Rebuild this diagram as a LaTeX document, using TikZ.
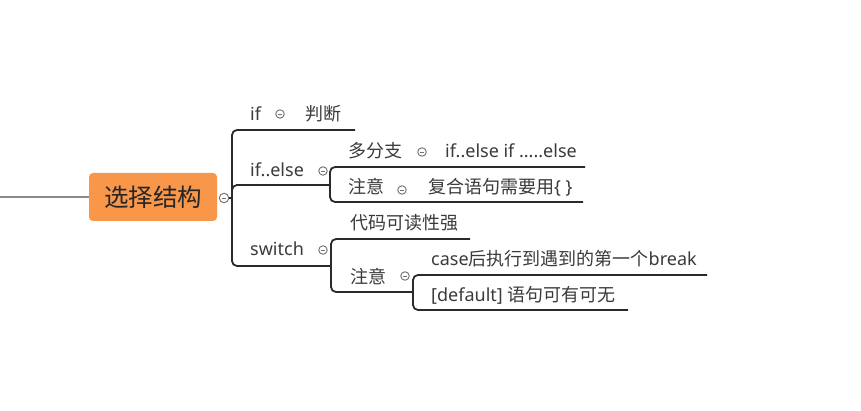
\documentclass[tikz,border=0pt]{standalone}
\usepackage{fontspec}
\setmainfont{Noto Sans}
\newfontfamily\cjk{Noto Sans CJK SC}
\definecolor{txtc}{HTML}{3C3A38}
\definecolor{linec}{HTML}{2A2A2A}
\definecolor{togc}{HTML}{707070}
\definecolor{rootfill}{HTML}{F8964A}
\definecolor{rootline}{HTML}{8A8A8A}
\begin{document}
\begin{tikzpicture}[x=1pt,y=-1pt]
\tikzset{
  txt/.style={anchor=west, inner sep=0pt, text=txtc, font=\fontsize{18}{20}\selectfont, text height=15.6pt, text depth=2.2pt},
  branch/.style={draw=linec, line width=1.8pt, rounded corners=5pt},
  toggle/.style={circle, draw=togc, line width=0.9pt, fill=white, minimum size=8.5pt, inner sep=0pt,
    path picture={\draw[togc, line width=0.9pt] ([xshift=-2.3pt]path picture bounding box.center) -- ([xshift=2.3pt]path picture bounding box.center);}},
  rootbox/.style={fill=rootfill, rounded corners=4pt, minimum width=128pt, minimum height=48pt, inner sep=0pt,
    text=black!85, font=\fontsize{24.5}{28}\selectfont\cjk},
}
\useasboundingbox (0,0) rectangle (861,411);

% root
\coordinate (left) at (0,197);
\node[rootbox] (root) at (153,197) {选择结构};
\draw[rootline, line width=1.4pt] (left) -- (root.west);
\node[toggle, minimum size=9.5pt] (t0) at (224,198) {};
\coordinate (j0) at (232,198);
\draw[linec, line width=1.2pt] (t0.east) -- (j0);

% level 1 texts
\node[txt] (if) at (250,114) {if};
\node[toggle] (t1) at (280,114) {};
\node[txt] (pd) at (305,114) {\cjk 判断};
\node[txt] (ifelse) at (250,170) {if..else};
\node[toggle] (t2) at (323,171) {};
\node[txt] (switch) at (250,249) {switch};
\node[toggle] (t3) at (323,250) {};

% level 1 connectors
\coordinate (ifE) at (355,130);
\coordinate (ifelseE) at (330,185);
\coordinate (switchE) at (331,266);
\draw[branch] (j0) |- (ifE);
\draw[branch] (j0) |- (ifelseE);
\draw[branch] (j0) |- (switchE);

% if..else children
\node[txt] (dfz) at (348,151) {\cjk 多分支};
\node[toggle] (t4) at (422,152) {};
\node[txt] (ifelseif) at (445,151) {if..else if .....else};
\node[txt] (zy1) at (348,187) {\cjk 注意};
\node[toggle] (t5) at (402,190) {};
\node[txt] (fhyj) at (428,187) {{\cjk 复合语句需要用}\{ \}};
\coordinate (dfzE) at (585,167);
\coordinate (zy1E) at (583,202);
\draw[branch] (ifelseE) |- (dfzE);
\draw[branch] (ifelseE) |- (zy1E);

% switch children
\node[txt] (dmkd) at (350,223) {\cjk 代码可读性强};
\node[txt] (zy2) at (350,277) {\cjk 注意};
\node[toggle] (t6) at (405,276) {};
\coordinate (dmkdE) at (470,239);
\coordinate (zy2E) at (413,292);
\draw[branch] (switchE) |- (dmkdE);
\draw[branch] (switchE) |- (zy2E);

% 注意 children
\node[txt] (case) at (431,259) {case{\cjk 后执行到遇到的第一个}break};
\node[txt] (default) at (431,295) {[default] {\cjk 语句可有可无}};
\coordinate (caseE) at (707,275);
\coordinate (defaultE) at (628,310);
\draw[branch] (zy2E) |- (caseE);
\draw[branch] (zy2E) |- (defaultE);
\end{tikzpicture}
\end{document}
